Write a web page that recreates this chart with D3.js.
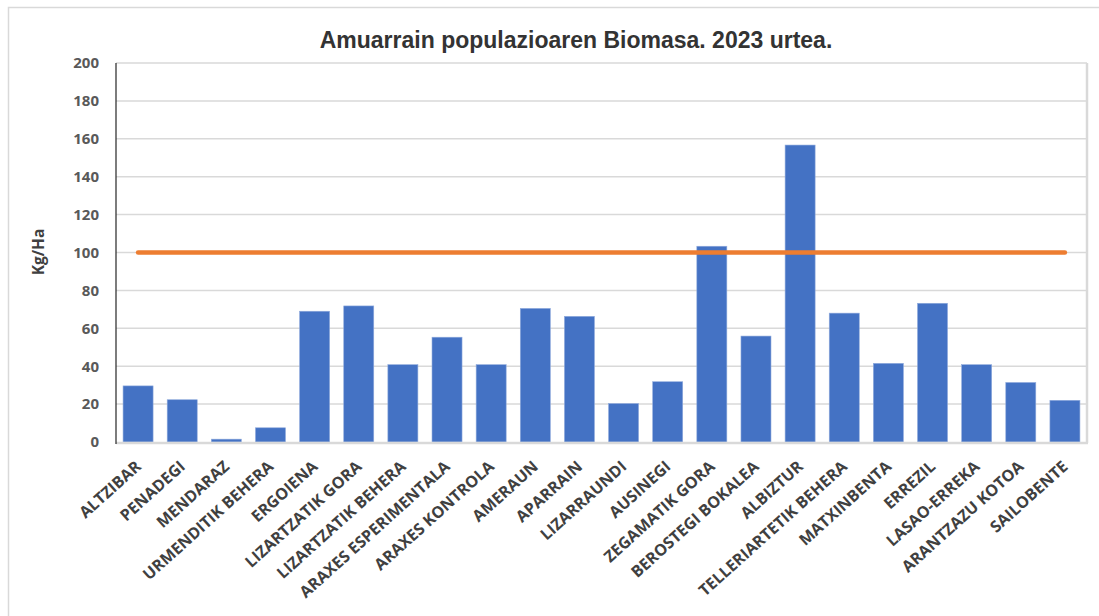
<!DOCTYPE html>
<html>
<head>
<meta charset="utf-8">
<script src="https://cdn.jsdelivr.net/npm/d3@7"></script>
<style>
  body { margin: 0; background: #fff; }
  .tick-y { font-family: "Open Sans", sans-serif; font-weight: 700; font-size: 15px; fill: #595959; }
  .tick-x { font-family: "Open Sans", sans-serif; font-weight: 700; font-size: 16px; fill: #404040; }
</style>
</head>
<body>
<div id="chart"></div>
<script>
const width = 1099;
const height = 616;
const marginTop = 63;
const marginRight = 12;
const marginLeft = 116;

// Data
const stations = [
  'ALTZIBAR', 'PENADEGI', 'MENDARAZ', 'URMENDITIK BEHERA', 'ERGOIENA',
  'LIZARTZATIK GORA', 'LIZARTZATIK BEHERA', 'ARAXES ESPERIMENTALA', 'ARAXES KONTROLA',
  'AMERAUN', 'APARRAIN', 'LIZARRAUNDI', 'AUSINEGI', 'ZEGAMATIK GORA',
  'BEROSTEGI BOKALEA', 'ALBIZTUR', 'TELLERIARTETIK BEHERA', 'MATXINBENTA',
  'ERREZIL', 'LASAO-ERREKA', 'ARANTZAZU KOTOA', 'SAILOBENTE'
];
const biomass = [
  29.6, 22.3, 1.5, 7.5, 69.0,
  71.8, 40.8, 55.3, 40.8,
  70.5, 66.3, 20.3, 31.8, 103.3,
  55.9, 156.7, 68.0, 41.5,
  73.2, 40.8, 31.4, 22.0
];
const reference = stations.map(() => 100);
const yTicks = [0, 20, 40, 60, 80, 100, 120, 140, 160, 180, 200];

const svg = d3.select('#chart')
  .append('svg')
  .attr('width', width)
  .attr('height', height);

// Chart frame
svg.append('rect')
  .attr('x', 8.5)
  .attr('y', 7.5)
  .attr('width', width + 10)
  .attr('height', height + 10)
  .attr('fill', 'none')
  .attr('stroke', '#d9d9d9')
  .attr('stroke-width', 1.5);

// X scale
const x = d3.scaleBand()
  .domain(stations)
  .range([marginLeft, width - marginRight])
  .paddingInner(0.32)
  .paddingOuter(0.16);

// Y scale
const y = d3.scaleLinear()
  .domain([0, 200])
  .range([442, marginTop]);

const plotBottom = y(0);
const plotRight = width - marginRight;

// Gridlines
svg.append('g')
  .selectAll('line')
  .data(yTicks.filter(d => d > 0))
  .enter()
  .append('line')
  .attr('x1', marginLeft)
  .attr('x2', plotRight)
  .attr('y1', d => y(d))
  .attr('y2', d => y(d))
  .attr('stroke', '#d9d9d9')
  .attr('stroke-width', 1.5);

// Plot right border
svg.append('line')
  .attr('x1', plotRight)
  .attr('x2', plotRight)
  .attr('y1', y(200))
  .attr('y2', plotBottom + 1)
  .attr('stroke', '#d9d9d9')
  .attr('stroke-width', 2.5);

// Bars
svg.selectAll('.bar')
  .data(stations)
  .enter()
  .append('rect')
  .attr('class', 'bar')
  .attr('fill', '#4472c4')
  .attr('stroke', '#8faadc')
  .attr('stroke-width', 0.6)
  .attr('x', d => x(d))
  .attr('width', x.bandwidth())
  .attr('y', (d, i) => y(biomass[i]))
  .attr('height', (d, i) => plotBottom - y(biomass[i]));

// Bottom axis line
svg.append('line')
  .attr('x1', marginLeft)
  .attr('x2', plotRight + 1)
  .attr('y1', plotBottom + 1)
  .attr('y2', plotBottom + 1)
  .attr('stroke', '#d9d9d9')
  .attr('stroke-width', 2.5);

// Left axis line
svg.append('line')
  .attr('x1', marginLeft)
  .attr('x2', marginLeft)
  .attr('y1', y(200))
  .attr('y2', plotBottom + 2)
  .attr('stroke', '#262626')
  .attr('stroke-width', 1.2);

// Reference line
const line = d3.line()
  .x(d => x(d[0]) + x.bandwidth() / 2)
  .y(d => y(d[1]));
svg.append('path')
  .datum(stations.map((s, i) => [s, reference[i]]))
  .attr('d', line)
  .attr('fill', 'none')
  .attr('stroke', '#ed7d31')
  .attr('stroke-width', 4.5)
  .attr('stroke-linecap', 'round');

// Y axis labels
const yAxis = svg.append('g')
  .attr('transform', `translate(${marginLeft},0)`)
  .call(d3.axisLeft(y).tickValues(yTicks).tickSize(0).tickPadding(17));
yAxis.select('.domain').remove();
yAxis.selectAll('text')
  .attr('class', 'tick-y')
  .attr('font-family', null)
  .attr('font-size', null);

// X axis labels
const xAxis = svg.append('g')
  .attr('transform', `translate(0,${plotBottom})`)
  .call(d3.axisBottom(x).tickSize(0));
xAxis.select('.domain').remove();
xAxis.selectAll('text')
  .attr('class', 'tick-x')
  .attr('font-family', null)
  .attr('font-size', null)
  .attr('text-anchor', 'end')
  .attr('dy', null)
  .attr('y', 0)
  .attr('transform', 'translate(4,26) rotate(-42)');

// Title
svg.append('text')
  .attr('x', 576)
  .attr('y', 48)
  .style('text-anchor', 'middle')
  .style('font-family', 'Liberation Sans, Arial, sans-serif')
  .style('font-weight', 'bold')
  .style('font-size', '23px')
  .style('fill', '#333333')
  .text('Amuarrain populazioaren Biomasa. 2023 urtea.');

// Y axis title
svg.append('text')
  .attr('transform', 'rotate(-90)')
  .attr('x', -252)
  .attr('y', 44)
  .style('text-anchor', 'middle')
  .style('font-family', 'Open Sans, sans-serif')
  .style('font-weight', 'bold')
  .style('font-size', '15.5px')
  .style('fill', '#404040')
  .text('Kg/Ha');
</script>
</body>
</html>
